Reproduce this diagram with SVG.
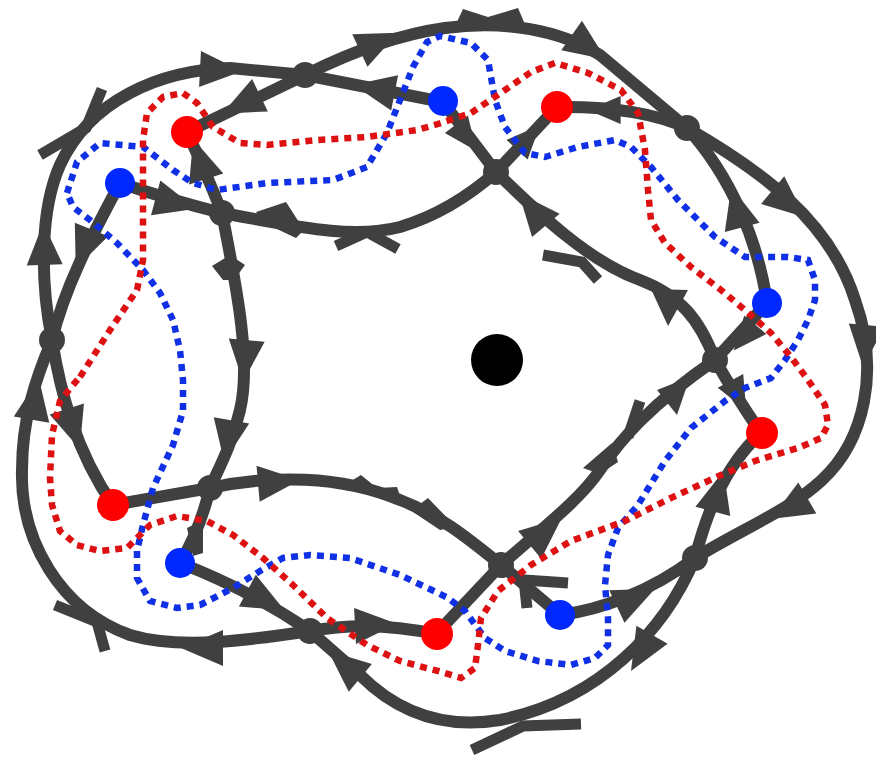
<svg xmlns="http://www.w3.org/2000/svg" xmlns:xlink="http://www.w3.org/1999/xlink" width="876" height="757" viewBox="0 0 876 757">
  <style>
    .e { fill: none; stroke: #404040; stroke-width: 12; }
    .b { fill: none; stroke: #404040; stroke-width: 11; stroke-linejoin: miter; }
    .h { fill: #404040; }
    .j { fill: #404040; }
    .dr { fill: none; stroke: #dd1111; stroke-width: 6.5; stroke-dasharray: 7 6; }
    .db { fill: none; stroke: #1030e6; stroke-width: 6.5; stroke-dasharray: 7 6; }
    .nr { fill: #ff0000; }
    .nb { fill: #0028ff; }
  </style>
  <defs>
    <path id="ah" d="M22,0 L-20,-18 L-20,18 Z" fill="#404040"/>
  </defs>
  <rect width="876" height="757" fill="#ffffff"/>

  <!-- arrows of the quiver -->
  <g id="edges">
    <path class="e" d="M52,340 C40,280 40,210 60,165 C90,100 160,70 230,68 L305,75"/>
    <path class="e" d="M443,102 L305,75"/>
    <path class="e" d="M305,75 L187,132"/>
    <path class="e" d="M305,75 C345,55 395,35 445,28 C505,20 560,30 600,55 L687,128"/>
    <path class="e" d="M687,128 Q640,106 557,107"/>
    <path class="e" d="M767,303 C758,240 730,175 687,128"/>
    <path class="e" d="M687,128 C760,170 830,220 855,300 C880,370 865,440 822,480 C790,510 740,530 695,558"/>
    <path class="e" d="M560,615 C600,610 650,592 695,558"/>
    <path class="e" d="M695,558 C705,520 722,468 761,433"/>
    <path class="e" d="M695,558 C665,630 600,700 500,720 C440,730 395,710 360,675 L310,631"/>
    <path class="e" d="M180,563 Q250,590 310,631"/>
    <path class="e" d="M310,631 Q370,620 436,634"/>
    <path class="e" d="M310,631 C250,640 180,650 130,635 C60,610 20,540 22,470 C22,420 35,380 52,340"/>
    <path class="e" d="M52,340 C60,390 75,450 113,505"/>
    <path class="e" d="M120,183 C95,230 65,285 52,340"/>
    <path class="e" d="M113,505 L210,488"/>
    <path class="e" d="M210,488 C270,475 340,475 400,500 C440,515 470,540 501,565"/>
    <path class="e" d="M222,213 C235,280 252,360 240,410 C232,445 218,470 210,488"/>
    <path class="e" d="M120,183 Q170,200 222,213"/>
    <path class="e" d="M222,213 Q205,170 187,132"/>
    <path class="e" d="M496,172 C470,195 440,215 400,227 C350,240 290,225 222,213"/>
    <path class="e" d="M443,102 L496,172"/>
    <path class="e" d="M496,172 L557,107"/>
    <path class="e" d="M715,360 C700,320 680,295 640,280 C590,262 540,215 496,172"/>
    <path class="e" d="M501,565 C540,530 580,500 600,470 C620,440 650,405 715,360"/>
    <path class="e" d="M767,303 L715,360"/>
    <path class="e" d="M715,360 Q735,395 761,433"/>
    <path class="e" d="M560,615 L501,565"/>
    <path class="e" d="M501,565 L436,634"/>
    <path class="e" d="M210,488 Q200,530 180,563"/>

    <!-- arrowheads -->
    <use href="#ah" transform="translate(44,245) rotate(-92)"/>
    <polyline class="b" points="40,155 86,128 102,89"/>
    <use href="#ah" transform="translate(220,70) rotate(3)"/>
    <use href="#ah" transform="translate(375,89) rotate(191)"/>
    <use href="#ah" transform="translate(378,42) rotate(-25)"/>
    <use href="#ah" transform="translate(242,104) rotate(154)"/>
    <polygon class="h" points="456,24 463,9 488,17 518,8 524,22"/>
    <use href="#ah" transform="translate(588,47) rotate(35)"/>
    <use href="#ah" transform="translate(605,110) rotate(180) scale(0.78)"/>
    <use href="#ah" transform="translate(528,138) rotate(-47) scale(0.8)"/>
    <use href="#ah" transform="translate(466,137) rotate(53) scale(0.8)"/>
    <use href="#ah" transform="translate(737,208) rotate(-105)"/>
    <use href="#ah" transform="translate(788,203) rotate(40)"/>
    <use href="#ah" transform="translate(865,345) rotate(95)"/>
    <use href="#ah" transform="translate(790,508) rotate(150)"/>
    <use href="#ah" transform="translate(635,598) rotate(-25)"/>
    <use href="#ah" transform="translate(718,492) rotate(-75)"/>
    <use href="#ah" transform="translate(642,652) rotate(120)"/>
    <polyline class="b" points="472,750 523,726 581,724"/>
    <use href="#ah" transform="translate(345,665) rotate(-140)"/>
    <use href="#ah" transform="translate(265,600) rotate(28)"/>
    <use href="#ah" transform="translate(375,625) rotate(-3)"/>
    <use href="#ah" transform="translate(203,648) rotate(180)"/>
    <polyline class="b" points="55,605 97,622 105,651"/>
    <use href="#ah" transform="translate(35,400) rotate(-80)"/>
    <use href="#ah" transform="translate(73,428) rotate(72)"/>
    <use href="#ah" transform="translate(84,248) rotate(112)"/>
    <use href="#ah" transform="translate(175,203) rotate(15)"/>
    <use href="#ah" transform="translate(200,160) rotate(-108)"/>
    <polygon class="h" points="256,212 286,202 304,230 296,238 262,222"/>
    <polyline class="b" points="336,246 367,232 398,249"/>
    <polygon class="h" points="212,266 230,255 245,265 234,280 223,280"/>
    <use href="#ah" transform="translate(245,360) rotate(95)"/>
    <use href="#ah" transform="translate(228,440) rotate(100)"/>
    <polygon class="h" points="187,528 203,520 203,553 193,556"/>
    <use href="#ah" transform="translate(278,482) rotate(-5)"/>
    <polygon class="h" points="343,486 361,475 377,488 397,487 401,499 420,504 428,498 456,527 440,530 410,510 380,496 350,490"/>
    <use href="#ah" transform="translate(545,532) rotate(-40)"/>
    <polygon class="h" points="583,468 612,443 618,462 600,474"/>
    <line class="b" x1="640" y1="401" x2="628" y2="437"/>
    <polygon class="h" points="657,390 690,377 677,415"/>
    <use href="#ah" transform="translate(533,210) rotate(-130)"/>
    <polyline class="b" points="543,255 582,262 598,280"/>
    <polygon class="h" points="651,289 688,290 668,326"/>
    <use href="#ah" transform="translate(745,337) rotate(130) scale(0.8)"/>
    <use href="#ah" transform="translate(738,395) rotate(62) scale(0.8)"/>
    <polyline class="b" points="568,583 524,580 527,608"/>
  </g>

  <!-- crossing vertices -->
  <g id="j1"><circle class="j" cx="305" cy="75" r="13"/></g>
  <g id="j2"><circle class="j" cx="496" cy="172" r="13"/></g>
  <g id="j3"><circle class="j" cx="222" cy="213" r="13"/></g>
  <g id="j4"><circle class="j" cx="687" cy="128" r="13"/></g>
  <g id="j5"><circle class="j" cx="715" cy="360" r="13"/></g>
  <g id="j6"><circle class="j" cx="695" cy="558" r="13"/></g>
  <g id="j7"><circle class="j" cx="501" cy="565" r="13"/></g>
  <g id="j8"><circle class="j" cx="310" cy="631" r="13"/></g>
  <g id="j9"><circle class="j" cx="210" cy="488" r="13"/></g>
  <g id="j10"><circle class="j" cx="52" cy="340" r="13"/></g>

  <!-- dotted loops -->
  <g id="loops">
    <polyline class="db" points="67,193 77,162 100,143 143,147 173,170 193,183 217,190 267,183 333,180 367,167 387,133 400,100 413,67 427,42 440,36 471,43 488,60 495,100 505,127 525,153 545,157 578,147 615,140 631,147 651,167 678,200 715,237 745,257 788,257 808,260 815,280 815,300 808,320 798,340 785,360 771,378 745,388 725,401 691,428 665,461 638,505 618,528 608,555 605,585 608,618 608,645 595,658 571,665 538,661 505,651 485,638 465,611 448,598 438,593 400,575 350,558 310,555 283,558 260,571 233,588 200,605 177,608 150,601 137,578 137,551 143,525 153,488 173,445 183,411 183,380 180,350 173,320 160,293 143,270 117,243 90,220 73,207 67,193"/>
    <polyline class="dr" points="80,377 110,330 137,290 143,260 143,200 143,140 147,113 163,97 183,93 197,103 213,127 240,143 267,145 317,140 367,137 417,130 438,124 471,113 505,90 531,72 555,63 588,73 621,90 638,113 645,150 648,190 651,220 665,243 691,267 721,290 745,310 771,333 791,357 808,380 825,405 828,425 821,438 798,448 755,461 721,475 671,498 625,521 571,541 531,565 498,591 481,618 478,645 475,668 461,678 438,671 400,661 367,645 327,618 293,585 263,558 233,535 207,521 177,516 150,525 127,548 100,551 77,545 60,531 52,505 50,478 52,435 60,401 73,385 80,377"/>
  </g>

  <!-- frozen vertices -->
  <g id="r1"><circle class="nr" cx="187" cy="132" r="16"/></g>
  <g id="r2"><circle class="nr" cx="557" cy="107" r="16"/></g>
  <g id="r3"><circle class="nr" cx="762" cy="433" r="16"/></g>
  <g id="r4"><circle class="nr" cx="437" cy="634" r="16"/></g>
  <g id="r5"><circle class="nr" cx="113" cy="505" r="16"/></g>
  <g id="b1"><circle class="nb" cx="120" cy="183" r="15"/></g>
  <g id="b2"><circle class="nb" cx="443" cy="101" r="15"/></g>
  <g id="b3"><circle class="nb" cx="767" cy="303" r="15"/></g>
  <g id="b4"><circle class="nb" cx="560" cy="615" r="15"/></g>
  <g id="b5"><circle class="nb" cx="180" cy="563" r="15"/></g>

  <!-- puncture -->
  <g id="center"><circle cx="497" cy="360" r="26" fill="#000000"/></g>
</svg>
